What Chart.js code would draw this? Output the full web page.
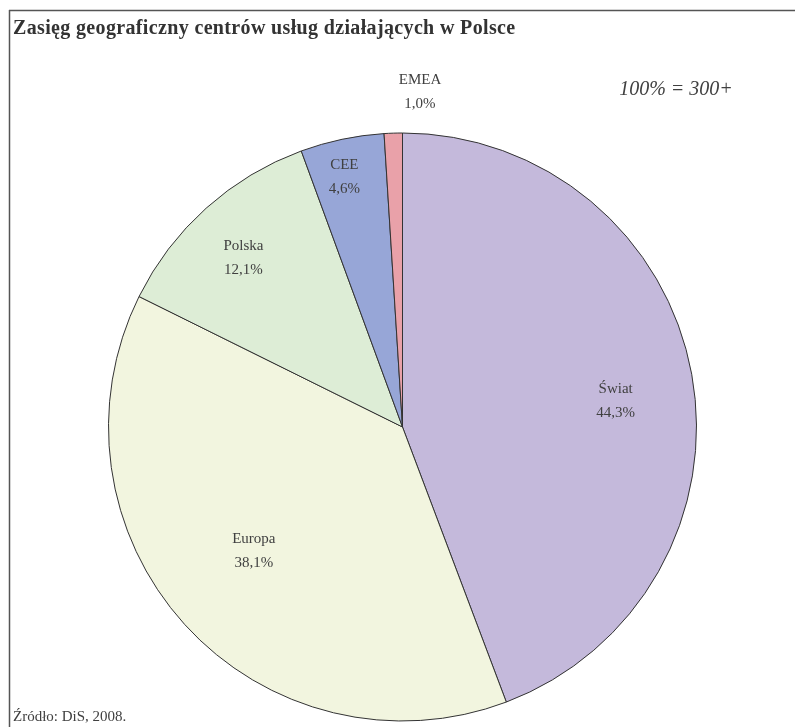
<!DOCTYPE html>
<html>
<head>
<meta charset="utf-8">
<script src="https://cdn.jsdelivr.net/npm/chart.js@4/dist/chart.umd.min.js"></script>
<style>
html,body{margin:0;padding:0;background:#fff;}
#wrap{width:795px;height:727px;position:relative;}
</style>
</head>
<body>
<div id="wrap"><canvas id="c" width="795" height="727"></canvas></div>
<script>
const categories = ["Świat", "Europa", "Polska", "CEE", "EMEA"];
const shares = [44.3, 38.1, 12.1, 4.6, 1.0];
const valueLabels = ["44,3%", "38,1%", "12,1%", "4,6%", "1,0%"];
const titleText = "Zasięg geograficzny centrów usług działających w Polsce";
const noteText = "100% = 300+";
const sourceText = "Źródło: DiS, 2008.";

const sliceColors = ["#C4B9DB", "#F2F5DF", "#DDEDD6", "#97A6D7", "#E9A1A9"];
const labelRadius = [0.73, 0.65, 0.79, 0.88, 1.14];
const labelNudge = [[2, 13], [-7, -4], [-4, 4], [-5, 3], [28, 0]];
const textColor = "#404040";
const serif = "'Liberation Serif', 'Times New Roman', serif";

const decor = {
  id: 'decor',
  beforeDraw(chart) {
    const ctx = chart.ctx;
    ctx.save();
    ctx.fillStyle = '#fff';
    ctx.fillRect(0, 0, chart.width, chart.height);
    ctx.strokeStyle = '#555';
    ctx.lineWidth = 1.5;
    ctx.beginPath();
    ctx.moveTo(9, 10.5); ctx.lineTo(chart.width, 10.5);
    ctx.moveTo(9.5, 10); ctx.lineTo(9.5, chart.height);
    ctx.stroke();
    ctx.fillStyle = '#333';
    ctx.font = "bold 20px " + serif;
    ctx.textBaseline = 'alphabetic';
    ctx.textAlign = 'left';
    if ('letterSpacing' in ctx) ctx.letterSpacing = '0.35px';
    ctx.fillText(titleText, 13, 34);
    if ('letterSpacing' in ctx) ctx.letterSpacing = '0px';
    ctx.fillStyle = textColor;
    ctx.font = "italic 20px " + serif;
    ctx.textAlign = 'center';
    ctx.fillText(noteText, 676, 95);
    ctx.font = "15px " + serif;
    ctx.textAlign = 'left';
    ctx.fillText(sourceText, 13, 721);
    ctx.restore();
  },
  afterDatasetsDraw(chart) {
    const ctx = chart.ctx;
    const meta = chart.getDatasetMeta(0);
    ctx.save();
    ctx.fillStyle = textColor;
    ctx.font = "15px " + serif;
    ctx.textAlign = 'center';
    ctx.textBaseline = 'middle';
    meta.data.forEach((arc, i) => {
      const p = arc.getProps(['x', 'y', 'startAngle', 'endAngle', 'outerRadius'], true);
      const mid = (p.startAngle + p.endAngle) / 2;
      const r = p.outerRadius * labelRadius[i];
      const x = p.x + Math.cos(mid) * r + labelNudge[i][0];
      const y = p.y + Math.sin(mid) * r + labelNudge[i][1];
      ctx.fillText(categories[i], x, y - 12);
      ctx.fillText(valueLabels[i], x, y + 12);
    });
    ctx.restore();
  }
};

new Chart(document.getElementById('c'), {
  type: 'pie',
  data: {
    labels: categories,
    datasets: [{
      data: shares,
      backgroundColor: sliceColors,
      borderColor: '#333',
      borderWidth: 1,
      borderAlign: 'center'
    }]
  },
  options: {
    responsive: false,
    animation: false,
    layout: { padding: { left: 108, right: 98, top: 132, bottom: 5 } },
    plugins: {
      legend: { display: false },
      tooltip: { enabled: false },
      title: { display: false }
    }
  },
  plugins: [decor]
});
</script>
</body>
</html>
